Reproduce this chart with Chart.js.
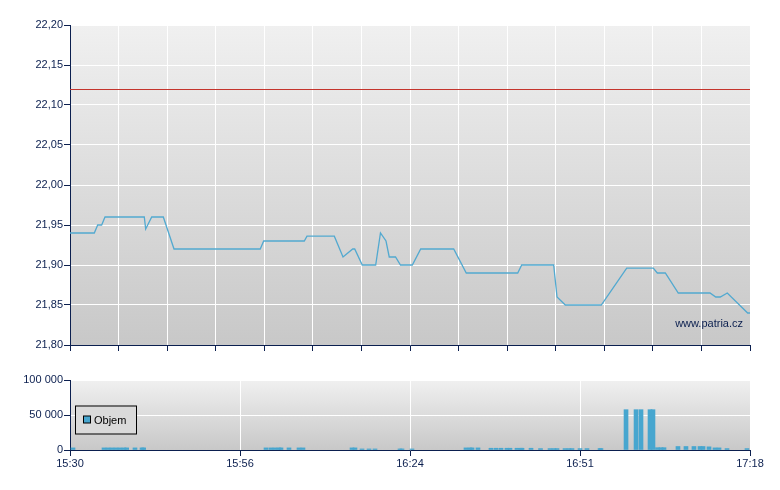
<!DOCTYPE html>
<html>
<head>
<meta charset="utf-8">
<script src="https://cdn.jsdelivr.net/npm/chart.js@4.4.1/dist/chart.umd.min.js"></script>
<style>
  html, body { margin: 0; padding: 0; background: #ffffff; }
  #wrap { position: relative; width: 780px; height: 490px; }
  #priceChart { position: absolute; left: 0; top: 0; }
  #volChart { position: absolute; left: 0; top: 360px; }
</style>
</head>
<body>
<div id="wrap">
  <canvas id="priceChart" width="780" height="360"></canvas>
  <canvas id="volChart" width="780" height="130"></canvas>
</div>
<script>
// ---- DATA (minutes after 15:30) ----
const priceTimes = [0, 3.86, 4.40, 5.03, 5.56, 11.80, 12.02, 12.98, 14.82, 16.52,
  30.22, 30.76, 37.21, 37.64, 41.98, 43.36, 44.90, 45.22, 46.42, 48.55,
  49.31, 50.19, 50.70, 51.70, 52.49, 54.37, 55.70, 60.94, 62.94, 71.11,
  71.74, 76.82, 77.35, 78.67, 84.38, 88.42, 92.64, 93.28, 94.55, 96.61,
  101.65, 102.56, 103.28, 104.39, 107.63, 108];
const priceValues = [21.94, 21.94, 21.95, 21.95, 21.96, 21.96, 21.945, 21.96, 21.96, 21.92,
  21.92, 21.93, 21.93, 21.936, 21.936, 21.91, 21.92, 21.92, 21.90, 21.90,
  21.94, 21.93, 21.91, 21.91, 21.90, 21.90, 21.92, 21.92, 21.89, 21.89,
  21.90, 21.90, 21.86, 21.85, 21.85, 21.896, 21.896, 21.89, 21.89, 21.865,
  21.865, 21.86, 21.86, 21.865, 21.84, 21.84];
const previousClose = 22.12;

const volTimes = [0.48, 5.4, 6.04, 6.67, 7.31, 7.94, 8.58, 9.0, 10.32, 11.44, 11.7,
  31.13, 31.92, 32.56, 33.19, 33.51, 34.78, 36.37, 37.0, 44.79, 45.26,
  46.38, 47.49, 48.44, 52.41, 52.73, 54.32,
  62.89, 63.53, 63.85, 64.8, 66.86, 67.66, 68.45, 69.4, 69.88, 70.99, 71.63, 71.79, 73.22,
  74.73, 76.24, 76.87, 77.35, 78.62, 79.25, 79.73, 81.0, 82.11, 84.18, 84.33,
  88.31, 89.9, 90.69, 92.12, 92.59, 93.31, 93.87, 94.34,
  96.56, 97.83, 99.1, 100.06, 100.54, 101.49, 102.44, 103.08, 104.35, 107.52];
const volValues = [3000, 3000, 3000, 3000, 3000, 3000, 3000, 3000, 3000, 3000, 3000,
  3000, 3000, 3000, 3000, 3000, 3000, 3000, 3000, 3000, 3000,
  1500, 1500, 1500, 1500, 1500, 1500,
  3000, 3000, 3000, 3000, 2500, 2500, 2500, 2500, 2500, 2500, 2500, 2500, 2500,
  2000, 2000, 2000, 2000, 2000, 2000, 2000, 2000, 2000, 2000, 2000,
  57600, 57600, 57600, 57600, 57600, 3300, 3300, 3300,
  5000, 5000, 5000, 5000, 5000, 4500, 3000, 3000, 2000, 2000];

const priceTicks = [21.80, 21.85, 21.90, 21.95, 22.00, 22.05, 22.10, 22.15, 22.20];
const volumeTicks = [0, 50000, 100000];
const timeLabels = ['15:30', '15:56', '16:24', '16:51', '17:18'];
const timeSpan = 108;
const priceGridCount = 14;
const seriesName = 'Objem';
const watermark = 'www.patria.cz';

// ---- STYLE ----
const NAVY = '#0b1f4f';
const LINE_BLUE = '#52a9d0';
const BAR_BLUE = '#47a6cf';
const RED = '#c4342c';
Chart.defaults.font.family = "'Liberation Sans', Arial, sans-serif";
Chart.defaults.font.size = 11;
Chart.defaults.color = NAVY;

const bgPlugin = {
  id: 'bgGrad',
  beforeDraw(chart) {
    const a = chart.chartArea, ctx = chart.ctx;
    const g = ctx.createLinearGradient(0, a.top, 0, a.bottom);
    g.addColorStop(0, '#f0f0f0');
    g.addColorStop(1, '#c8c8c8');
    ctx.save();
    ctx.fillStyle = g;
    ctx.fillRect(a.left, a.top, a.right - a.left, a.bottom - a.top);
    ctx.restore();
  }
};

// keep the 1px reference line crisp (pixel-aligned)
const crispPlugin = {
  id: 'crispRef',
  beforeDatasetDraw(chart, args) {
    if (args.index === 1) { chart.ctx.save(); chart.ctx.translate(0, 0.5); }
  },
  afterDatasetDraw(chart, args) {
    if (args.index === 1) { chart.ctx.restore(); }
  }
};

const watermarkPlugin = {
  id: 'watermark',
  afterDatasetsDraw(chart) {
    const a = chart.chartArea, ctx = chart.ctx;
    ctx.save();
    ctx.font = "11px 'Liberation Sans', Arial, sans-serif";
    ctx.fillStyle = NAVY;
    ctx.textAlign = 'right';
    ctx.textBaseline = 'middle';
    ctx.fillText(watermark, a.right - 7, a.bottom - 21);
    ctx.restore();
  }
};

const legendPlugin = {
  id: 'boxLegend',
  afterDraw(chart) {
    const a = chart.chartArea, ctx = chart.ctx;
    const x = a.left + 5, y = a.top + 25.5, w = 61, h = 28;
    ctx.save();
    ctx.fillStyle = '#dadada';
    ctx.fillRect(x, y, w, h);
    ctx.strokeStyle = '#000000';
    ctx.lineWidth = 1;
    ctx.strokeRect(x + 0.5, y + 0.5, w, h);
    ctx.fillStyle = BAR_BLUE;
    ctx.fillRect(x + 8.5, y + 10.5, 7, 7);
    ctx.strokeRect(x + 8.5, y + 10.5, 7, 7);
    ctx.fillStyle = '#000000';
    ctx.font = "11px 'Liberation Sans', Arial, sans-serif";
    ctx.textAlign = 'left';
    ctx.textBaseline = 'middle';
    ctx.fillText(seriesName, x + 19, y + 15);
    ctx.restore();
  }
};

const priceGridTicks = [];
for (let i = 0; i <= priceGridCount; i++) priceGridTicks.push(i * timeSpan / priceGridCount);
const volGridTicks = timeLabels.map((_, i) => i * timeSpan / (timeLabels.length - 1));

// ---- PRICE CHART ----
new Chart(document.getElementById('priceChart'), {
  type: 'line',
  data: {
    datasets: [
      {
        data: priceTimes.map((t, i) => ({ x: t, y: priceValues[i] })),
        borderColor: LINE_BLUE,
        borderWidth: 1.3,
        pointRadius: 0,
        tension: 0,
        fill: false
      },
      {
        data: [{ x: 0, y: previousClose }, { x: timeSpan, y: previousClose }],
        borderColor: RED,
        borderWidth: 1,
        pointRadius: 0,
        tension: 0,
        fill: false
      }
    ]
  },
  options: {
    responsive: false,
    animation: false,
    devicePixelRatio: 1,
    layout: { padding: { top: 25, right: 30, left: 0, bottom: 0 } },
    plugins: { legend: { display: false }, tooltip: { enabled: false } },
    scales: {
      x: {
        type: 'linear',
        min: 0, max: timeSpan,
        afterBuildTicks(s) { s.ticks = priceGridTicks.map(v => ({ value: v })); },
        afterFit(s) { s.height = 15; },
        ticks: { display: false, autoSkip: false },
        grid: { color: '#ffffff', lineWidth: 1, tickColor: NAVY, tickLength: 6, drawTicks: true },
        border: { color: NAVY, width: 1 }
      },
      y: {
        type: 'linear',
        min: 21.8, max: 22.2,
        afterBuildTicks(s) { s.ticks = priceTicks.map(v => ({ value: v })); },
        afterFit(s) { s.width = 70; },
        ticks: {
          padding: 1,
          color: NAVY,
          callback: v => Number(v).toFixed(2).replace('.', ',')
        },
        grid: { color: '#ffffff', lineWidth: 1, tickColor: NAVY, tickLength: 6 },
        border: { color: NAVY, width: 1 }
      }
    }
  },
  plugins: [bgPlugin, crispPlugin, watermarkPlugin]
});

// ---- VOLUME CHART ----
new Chart(document.getElementById('volChart'), {
  type: 'bar',
  data: {
    datasets: [{
      label: seriesName,
      data: volTimes.map((t, i) => ({ x: t, y: volValues[i] })),
      backgroundColor: BAR_BLUE,
      borderWidth: 0,
      barThickness: 4
    }]
  },
  options: {
    responsive: false,
    animation: false,
    devicePixelRatio: 1,
    layout: { padding: { top: 20, right: 30, left: 0, bottom: 0 } },
    plugins: { legend: { display: false }, tooltip: { enabled: false } },
    scales: {
      x: {
        type: 'linear',
        offset: false,
        min: 0, max: timeSpan,
        afterBuildTicks(s) { s.ticks = volGridTicks.map(v => ({ value: v })); },
        afterFit(s) { s.height = 40; },
        ticks: {
          autoSkip: false, maxRotation: 0, padding: 1, color: NAVY,
          callback: (v, i) => timeLabels[i]
        },
        grid: { color: '#ffffff', lineWidth: 1, tickColor: NAVY, tickLength: 6, offset: false },
        border: { color: NAVY, width: 1 }
      },
      y: {
        type: 'linear',
        min: 0, max: 100000,
        afterBuildTicks(s) { s.ticks = volumeTicks.map(v => ({ value: v })); },
        afterFit(s) { s.width = 70; },
        ticks: {
          padding: 1, color: NAVY,
          callback: v => String(v).replace(/\B(?=(\d{3})+(?!\d))/g, ' ')
        },
        grid: { color: '#ffffff', lineWidth: 1, tickColor: NAVY, tickLength: 6 },
        border: { color: NAVY, width: 1 }
      }
    }
  },
  plugins: [bgPlugin, legendPlugin]
});
</script>
</body>
</html>
